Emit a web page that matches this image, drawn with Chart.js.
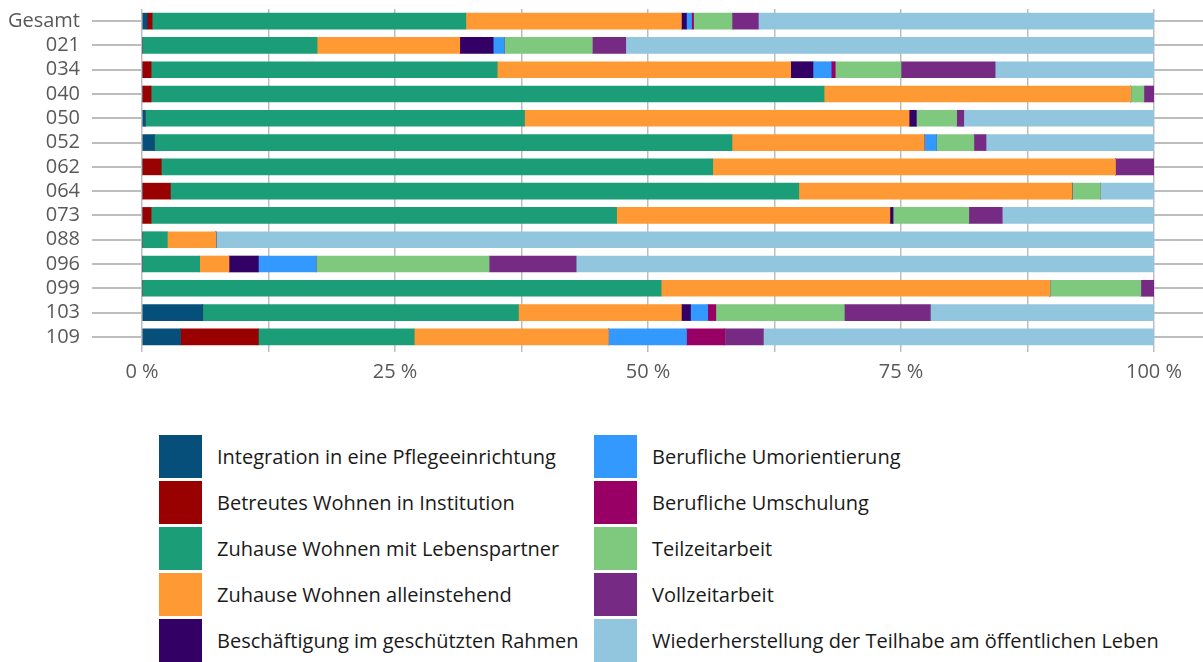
<!DOCTYPE html>
<html lang="de">
<head>
    <meta charset="UTF-8">
    <title>Verbleib nach Maßnahme</title>
    <script src="https://cdn.jsdelivr.net/npm/chart.js"></script>
    <style>
        body {
            margin: 0;
            background-color: #fff;
            font-family: 'Open Sans', sans-serif;
        }
        #wrap {
            position: relative;
            width: 1203px;
            height: 662px;
        }
        #chartBox {
            position: absolute;
            left: 0;
            top: 0;
            width: 1203px;
            height: 400px;
        }
        #legend {
            position: absolute;
            left: 159px;
            top: 435px;
            display: grid;
            grid-auto-flow: column;
            grid-template-columns: 435px auto;
            grid-template-rows: repeat(5, 43px);
            row-gap: 3px;
        }
        .item {
            display: flex;
            align-items: center;
        }
        .swatch {
            width: 43px;
            height: 43px;
            margin-right: 15px;
            flex: none;
        }
        .item span {
            font-size: 20px;
            color: #1a1a1a;
            white-space: nowrap;
        }
    </style>
</head>
<body>
    <div id="wrap">
        <div id="chartBox"><canvas id="barChart"></canvas></div>
        <div id="legend"></div>
    </div>

    <script>
// Anteile in Prozent je Maßnahme
var categories = ['Gesamt', '021', '034', '040', '050', '052', '062', '064', '073', '088', '096', '099', '103', '109'];

var pflege     = [0.5, 0,    0,    0,    0.3,  1.2,  0,    0,    0,    0,    0,    0,    6.0,  3.8];
var betreut    = [0.5, 0,    0.9,  0.9,  0,    0,    1.9,  2.8,  0.9,  0,    0,    0,    0,    7.7];
var partner    = [31.0, 17.3, 34.2, 66.5, 37.5, 57.1, 54.5, 62.1, 46.0, 2.5,  5.7,  51.3, 31.2, 15.4];
var allein     = [21.3, 14.1, 29.0, 30.3, 38.0, 19.0, 39.8, 27.0, 27.0, 4.8,  2.9,  38.4, 16.1, 19.2];
var geschuetzt = [0.5, 3.3,  2.2,  0,    0.7,  0,    0,    0,    0.3,  0,    2.9,  0,    0.9,  0];
var umorient   = [0.5, 1.1,  1.8,  0,    0,    1.2,  0,    0,    0,    0,    5.7,  0,    1.7,  7.7];
var umschulung = [0.2, 0,    0.4,  0,    0,    0,    0,    0,    0,    0,    0,    0,    0.8,  3.8];
var teilzeit   = [3.8, 8.7,  6.5,  1.3,  4.0,  3.7,  0,    2.8,  7.5,  0,    17.1, 9.0,  12.7, 0];
var vollzeit   = [2.6, 3.3,  9.3,  1.0,  0.7,  1.2,  3.8,  0,    3.3,  0,    8.6,  1.3,  8.5,  3.8];
var teilhabe   = [39.1, 52.2, 15.7, 0,   18.8, 16.6, 0,    5.3,  15.0, 92.7, 57.1, 0,    22.1, 38.6];

var seriesNames = [
    'Integration in eine Pflegeeinrichtung',
    'Betreutes Wohnen in Institution',
    'Zuhause Wohnen mit Lebenspartner',
    'Zuhause Wohnen alleinstehend',
    'Beschäftigung im geschützten Rahmen',
    'Berufliche Umorientierung',
    'Berufliche Umschulung',
    'Teilzeitarbeit',
    'Vollzeitarbeit',
    'Wiederherstellung der Teilhabe am öffentlichen Leben'
];
var seriesData = [pflege, betreut, partner, allein, geschuetzt, umorient, umschulung, teilzeit, vollzeit, teilhabe];
var seriesColors = ['#064f7b', '#990000', '#1b9e77', '#ff9933', '#330066', '#3399ff', '#990066', '#7fc97f', '#762a83', '#92c5de'];

var xTicks = [0, 25, 50, 75, 100];

Chart.defaults.font.family = "'Open Sans', sans-serif";
Chart.defaults.animation = false;

var gridColor = '#bdbdbd';

// keine zusätzlichen Ränder oben/unten durch die Beschriftung der Kategorieachsen
function noVerticalPadding(s) {
    s.paddingTop = 0;
    s.paddingBottom = 0;
}

var datasets = seriesNames.map(function (name, i) {
    return {
        label: name,
        data: seriesData[i],
        backgroundColor: seriesColors[i],
        borderWidth: 0,
        barThickness: 16
    };
});

var ctx = document.getElementById('barChart').getContext('2d');
var chart = new Chart(ctx, {
    type: 'bar',
    data: {
        labels: categories,
        datasets: datasets
    },
    options: {
        indexAxis: 'y',
        responsive: true,
        maintainAspectRatio: false,
        layout: { padding: { top: 9 } },
        plugins: {
            legend: { display: false },
            tooltip: { enabled: false }
        },
        scales: {
            x: {
                stacked: true,
                min: 0,
                max: 100,
                border: { display: false },
                grid: {
                    color: gridColor,
                    lineWidth: 1.5,
                    tickLength: 3
                },
                ticks: {
                    stepSize: 12.5,
                    autoSkip: false,
                    maxRotation: 0,
                    padding: 8,
                    color: '#595959',
                    font: { size: 20 },
                    callback: function (v) {
                        return xTicks.indexOf(v) >= 0 ? v + ' %' : '';
                    }
                },
                afterFit: function (s) { s.height = 51; }
            },
            y: {
                stacked: true,
                offset: true,
                border: { display: false },
                grid: {
                    offset: false,
                    drawOnChartArea: false,
                    color: gridColor,
                    lineWidth: 2,
                    tickLength: 50
                },
                ticks: {
                    autoSkip: false,
                    padding: 12,
                    color: '#595959',
                    font: { size: 20 }
                },
                afterFit: function (s) {
                    s.width = 142;
                    noVerticalPadding(s);
                }
            },
            y2: {
                type: 'category',
                position: 'right',
                labels: categories,
                offset: true,
                border: { display: false },
                grid: {
                    offset: false,
                    drawOnChartArea: false,
                    color: gridColor,
                    lineWidth: 2,
                    tickLength: 49
                },
                ticks: { display: false, autoSkip: false },
                afterFit: function (s) {
                    s.width = 49;
                    noVerticalPadding(s);
                }
            }
        }
    }
});

// Legende in zwei Spalten aus den Datensätzen aufbauen
var legendBox = document.getElementById('legend');
chart.data.datasets.forEach(function (ds) {
    var item = document.createElement('div');
    item.className = 'item';
    var sw = document.createElement('div');
    sw.className = 'swatch';
    sw.style.backgroundColor = ds.backgroundColor;
    var txt = document.createElement('span');
    txt.textContent = ds.label;
    item.appendChild(sw);
    item.appendChild(txt);
    legendBox.appendChild(item);
});
    </script>
</body>
</html>
